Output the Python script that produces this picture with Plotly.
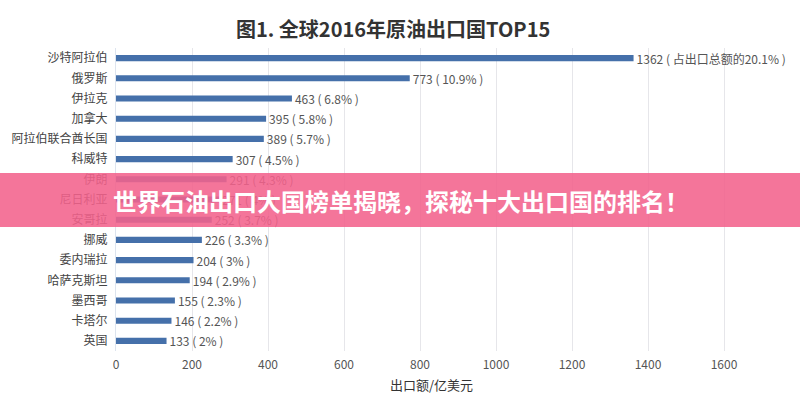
import plotly.graph_objects as go

countries = ["沙特阿拉伯", "俄罗斯", "伊拉克", "加拿大", "阿拉伯联合酋长国", "科威特", "伊朗",
             "尼日利亚", "安哥拉", "挪威", "委内瑞拉", "哈萨克斯坦", "墨西哥", "卡塔尔", "英国"]
values = [1362, 773, 463, 395, 389, 307, 291, 271, 252, 226, 204, 194, 155, 146, 133]
shares = ["占出口总额的20.1%", "10.9%", "6.8%", "5.8%", "5.7%", "4.5%", "4.3%", "4%",
          "3.7%", "3.3%", "3%", "2.9%", "2.3%", "2.2%", "2%"]
tick_values = [0, 200, 400, 600, 800, 1000, 1200, 1400, 1600]

title_text = "图1. 全球2016年原油出口国TOP15"
axis_title = "出口额/亿美元"
banner_text = "世界石油出口大国榜单揭晓，探秘十大出口国的排名！"

FONT = "Noto Sans CJK SC"
labels = [f"{v} ( {s} )" for v, s in zip(values, shares)]

fig = go.Figure(go.Bar(
    x=values, y=countries, orientation="h",
    marker=dict(color="#4570aa", line=dict(width=0)),
    width=0.3,
    text=labels, textposition="outside", cliponaxis=False, constraintext="none",
    textfont=dict(family=FONT, size=12, color="#555555"),
))

L, R, T, B = 116, 0, 48, 49
W, H = 800, 400
pw, ph = W - L - R, H - T - B

def px_x(x):
    return (x - L) / pw

def px_y(y):
    return (H - B - y) / ph

fig.update_layout(
    width=W, height=H,
    margin=dict(l=L, r=R, t=T, b=B),
    paper_bgcolor="white", plot_bgcolor="white",
    showlegend=False,
    xaxis=dict(range=[0, 1800], tickvals=tick_values, showgrid=True,
               gridcolor="#e6e6ea", gridwidth=1, zeroline=False, showline=False,
               tickfont=dict(family=FONT, size=12, color="#555555"), ticks="",
               ticklabelstandoff=5, automargin=False),
    yaxis=dict(autorange="reversed", showgrid=False, zeroline=False,
               showline=True, linecolor="#dde4ee", linewidth=1,
               tickfont=dict(family=FONT, size=12, color="#444444"), ticks="",
               ticklabelstandoff=5, automargin=False),
    annotations=[
        dict(text="<b>" + title_text + "</b>", xref="paper", yref="paper",
             x=px_x(393), y=px_y(28), xanchor="center", yanchor="middle",
             showarrow=False, font=dict(family=FONT, size=20, color="#333333")),
        dict(text=axis_title, xref="paper", yref="paper",
             x=px_x(431), y=px_y(384), xanchor="center", yanchor="middle",
             showarrow=False, font=dict(family=FONT, size=13, color="#333333")),
        dict(text="<b>" + banner_text + "</b>", xref="paper", yref="paper",
             x=px_x(401), y=px_y(200), xanchor="center", yanchor="middle",
             showarrow=False, font=dict(family=FONT, size=24, color="white")),
    ],
    shapes=[
        dict(type="rect", xref="paper", yref="paper",
             x0=px_x(0), x1=px_x(800), y0=px_y(227), y1=px_y(173),
             fillcolor="#f2628c", opacity=0.88, line=dict(width=0), layer="above"),
    ],
)

fig.write_html("out.html", config={"displayModeBar": False},
               post_script="document.body.style.margin='0px';")
